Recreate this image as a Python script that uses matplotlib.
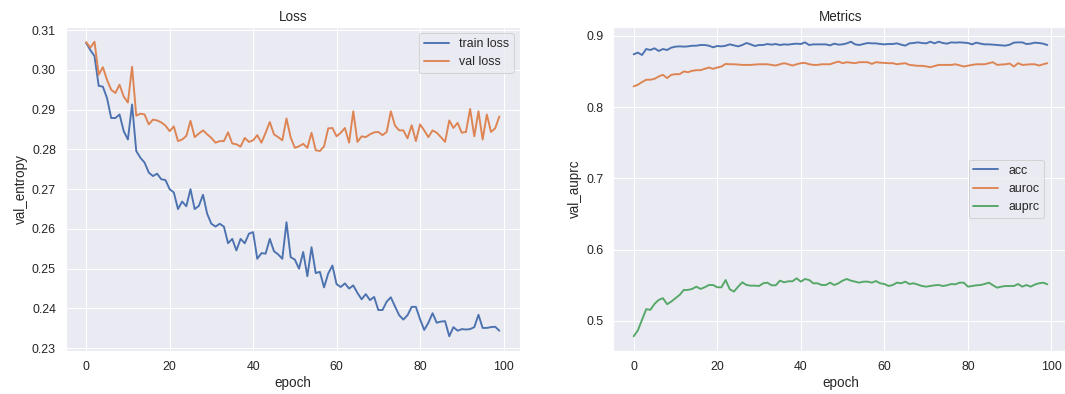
import matplotlib
matplotlib.use("Agg")
import matplotlib.pyplot as plt
import seaborn as sns
import numpy as np

sns.set_theme(style="darkgrid", font_scale=1.13)
plt.rcParams['font.family'] = ['Liberation Sans', 'DejaVu Sans']

epochs = list(range(100))

train_loss = [
    0.3068, 0.3050, 0.3035, 0.2960, 0.2958, 0.2929, 0.2879, 0.2879, 0.2888, 0.2846,
    0.2825, 0.2913, 0.2796, 0.2779, 0.2767, 0.2742, 0.2733, 0.2739, 0.2725, 0.2723,
    0.2700, 0.2692, 0.2650, 0.2669, 0.2657, 0.2700, 0.2650, 0.2658, 0.2686, 0.2638,
    0.2613, 0.2606, 0.2613, 0.2606, 0.2564, 0.2575, 0.2546, 0.2575, 0.2564, 0.2588,
    0.2592, 0.2525, 0.2539, 0.2538, 0.2575, 0.2544, 0.2536, 0.2525, 0.2617, 0.2529,
    0.2523, 0.2500, 0.2542, 0.2481, 0.2554, 0.2489, 0.2492, 0.2453, 0.2488, 0.2508,
    0.2461, 0.2454, 0.2463, 0.2450, 0.2458, 0.2439, 0.2423, 0.2436, 0.2421, 0.2429,
    0.2396, 0.2396, 0.2417, 0.2428, 0.2405, 0.2383, 0.2372, 0.2383, 0.2404, 0.2404,
    0.2373, 0.2346, 0.2364, 0.2388, 0.2364, 0.2367, 0.2368, 0.2330, 0.2353, 0.2344,
    0.2348, 0.2347, 0.2348, 0.2353, 0.2384, 0.2351, 0.2351, 0.2353, 0.2354, 0.2344,
]

val_loss = [
    0.3070, 0.3056, 0.3071, 0.2988, 0.3007, 0.2975, 0.2950, 0.2942, 0.2963, 0.2933,
    0.2918, 0.3008, 0.2885, 0.2890, 0.2888, 0.2863, 0.2875, 0.2873, 0.2868, 0.2860,
    0.2846, 0.2858, 0.2821, 0.2825, 0.2834, 0.2872, 0.2831, 0.2840, 0.2848, 0.2838,
    0.2829, 0.2817, 0.2821, 0.2821, 0.2843, 0.2815, 0.2813, 0.2807, 0.2829, 0.2819,
    0.2823, 0.2836, 0.2817, 0.2842, 0.2869, 0.2838, 0.2831, 0.2823, 0.2878, 0.2830,
    0.2804, 0.2808, 0.2814, 0.2804, 0.2842, 0.2798, 0.2796, 0.2808, 0.2853, 0.2854,
    0.2833, 0.2842, 0.2854, 0.2817, 0.2896, 0.2819, 0.2833, 0.2831, 0.2838, 0.2843,
    0.2844, 0.2836, 0.2844, 0.2896, 0.2860, 0.2848, 0.2848, 0.2828, 0.2861, 0.2821,
    0.2863, 0.2848, 0.2831, 0.2848, 0.2842, 0.2831, 0.2819, 0.2873, 0.2854, 0.2867,
    0.2842, 0.2844, 0.2902, 0.2833, 0.2896, 0.2825, 0.2888, 0.2844, 0.2853, 0.2883,
]

acc = [
    0.8740, 0.8763, 0.8730, 0.8814, 0.8800, 0.8824, 0.8786, 0.8814, 0.8800, 0.8833,
    0.8847, 0.8851, 0.8847, 0.8851, 0.8860, 0.8860, 0.8870, 0.8870, 0.8860, 0.8838,
    0.8856, 0.8851, 0.8860, 0.8879, 0.8865, 0.8851, 0.8870, 0.8898, 0.8879, 0.8856,
    0.8870, 0.8870, 0.8884, 0.8875, 0.8884, 0.8870, 0.8879, 0.8875, 0.8884, 0.8889,
    0.8884, 0.8907, 0.8870, 0.8879, 0.8879, 0.8879, 0.8879, 0.8865, 0.8889, 0.8875,
    0.8879, 0.8893, 0.8916, 0.8879, 0.8870, 0.8884, 0.8898, 0.8893, 0.8893, 0.8884,
    0.8879, 0.8884, 0.8884, 0.8893, 0.8875, 0.8861, 0.8893, 0.8898, 0.8907, 0.8898,
    0.8893, 0.8916, 0.8893, 0.8916, 0.8898, 0.8889, 0.8907, 0.8903, 0.8907, 0.8903,
    0.8898, 0.8879, 0.8903, 0.8889, 0.8879, 0.8879, 0.8875, 0.8870, 0.8865, 0.8861,
    0.8875, 0.8903, 0.8907, 0.8907, 0.8884, 0.8889, 0.8903, 0.8898, 0.8889, 0.8870,
]

auroc = [
    0.8290, 0.8313, 0.8350, 0.8383, 0.8383, 0.8396, 0.8429, 0.8452, 0.8406, 0.8452,
    0.8461, 0.8461, 0.8499, 0.8489, 0.8508, 0.8517, 0.8517, 0.8536, 0.8554, 0.8536,
    0.8554, 0.8568, 0.8605, 0.8600, 0.8600, 0.8596, 0.8591, 0.8591, 0.8591, 0.8596,
    0.8600, 0.8600, 0.8600, 0.8591, 0.8582, 0.8600, 0.8615, 0.8600, 0.8582, 0.8600,
    0.8615, 0.8619, 0.8600, 0.8591, 0.8591, 0.8600, 0.8600, 0.8600, 0.8620, 0.8638,
    0.8615, 0.8629, 0.8622, 0.8615, 0.8629, 0.8629, 0.8629, 0.8605, 0.8629, 0.8622,
    0.8619, 0.8615, 0.8615, 0.8600, 0.8608, 0.8615, 0.8591, 0.8585, 0.8578, 0.8578,
    0.8570, 0.8559, 0.8575, 0.8591, 0.8591, 0.8591, 0.8591, 0.8600, 0.8585, 0.8568,
    0.8580, 0.8591, 0.8600, 0.8600, 0.8600, 0.8615, 0.8629, 0.8591, 0.8596, 0.8600,
    0.8610, 0.8568, 0.8615, 0.8591, 0.8595, 0.8600, 0.8600, 0.8582, 0.8600, 0.8615,
]

auprc = [
    0.4785, 0.4868, 0.5017, 0.5165, 0.5156, 0.5240, 0.5295, 0.5319, 0.5235, 0.5272,
    0.5319, 0.5365, 0.5435, 0.5435, 0.5449, 0.5481, 0.5449, 0.5472, 0.5504, 0.5504,
    0.5472, 0.5472, 0.5574, 0.5444, 0.5412, 0.5481, 0.5542, 0.5504, 0.5495, 0.5495,
    0.5490, 0.5528, 0.5537, 0.5500, 0.5500, 0.5565, 0.5542, 0.5556, 0.5556, 0.5598,
    0.5551, 0.5588, 0.5574, 0.5528, 0.5528, 0.5504, 0.5504, 0.5537, 0.5504, 0.5528,
    0.5565, 0.5588, 0.5565, 0.5551, 0.5537, 0.5551, 0.5551, 0.5537, 0.5560, 0.5528,
    0.5518, 0.5490, 0.5504, 0.5537, 0.5528, 0.5551, 0.5518, 0.5528, 0.5510, 0.5490,
    0.5481, 0.5490, 0.5500, 0.5504, 0.5490, 0.5500, 0.5518, 0.5514, 0.5537, 0.5537,
    0.5481, 0.5490, 0.5500, 0.5504, 0.5518, 0.5537, 0.5500, 0.5467, 0.5481, 0.5490,
    0.5490, 0.5490, 0.5518, 0.5481, 0.5504, 0.5481, 0.5510, 0.5528, 0.5537, 0.5514,
]

W, H = 1065, 394
DPI = 72
fig = plt.figure(figsize=(W / DPI, H / DPI), dpi=DPI)

ax1 = fig.add_axes([65.5 / W, (H - 351) / H, 454.5 / W, 324 / H])
ax2 = fig.add_axes([613 / W, (H - 351) / H, 455 / W, 324 / H])

LW = 1.9
ax1.plot(epochs, train_loss, label="train loss", lw=LW)
ax1.plot(epochs, val_loss, label="val loss", lw=LW)
ax1.set_title("Loss")
ax1.set_xlabel("epoch")
ax1.set_ylabel("val_entropy")
ax1.legend(loc="upper right")

ax2.plot(epochs, acc, label="acc", lw=LW)
ax2.plot(epochs, auroc, label="auroc", lw=LW)
ax2.plot(epochs, auprc, label="auprc", lw=LW)
ax2.set_title("Metrics")
ax2.set_xlabel("epoch")
ax2.set_ylabel("val_auprc")
ax2.legend(loc="center right", bbox_to_anchor=(0.9615, 0.5))

fig.savefig("out.png", dpi=DPI)
